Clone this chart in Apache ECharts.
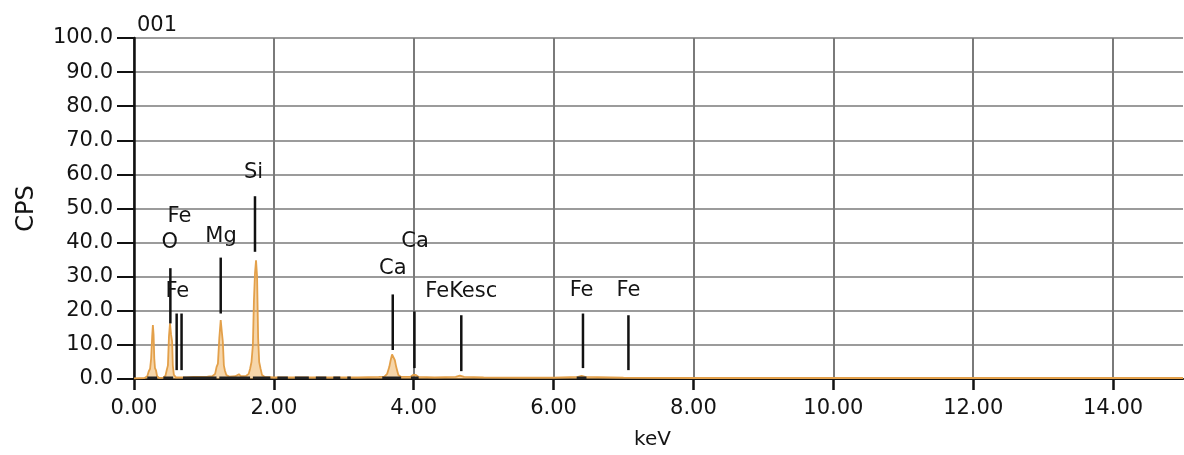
<!DOCTYPE html>
<html>
<head>
<meta charset="utf-8">
<script src="https://cdn.jsdelivr.net/npm/echarts@6/dist/echarts.min.js"></script>
<style>
html,body{margin:0;padding:0;background:#fff;}
#chart{width:1184px;height:455px;}
</style>
</head>
<body>
<div id="chart"></div>
<script>
// ---- data ----
const chartTitle = '001';
const xName = 'keV';
const yName = 'CPS';
const yTicks = [0,10,20,30,40,50,60,70,80,90,100];
const xTicks = [0,2,4,6,8,10,12,14];

// spectrum: [energy keV, counts per second]
const spectrum = [
  [0.00,0.2],[0.15,0.3],[0.19,0.8],[0.21,2.2],[0.23,3.0],[0.245,6],[0.26,12.5],[0.27,15.8],[0.28,13],[0.29,6],[0.30,3.2],[0.315,2.5],[0.33,0.8],[0.36,0.3],
  [0.42,0.4],[0.45,1.0],[0.47,2.8],[0.485,4],[0.50,12.5],[0.515,16.3],[0.53,13],[0.545,11],[0.555,4],[0.57,1.2],[0.60,0.5],
  [0.65,0.5],[0.75,0.5],[0.85,0.6],[0.95,0.6],[1.05,0.7],[1.12,0.8],
  [1.16,1.5],[1.18,3.5],[1.20,4.5],[1.22,12],[1.24,17.3],[1.255,14],[1.27,11],[1.285,4],[1.30,2.5],[1.32,1.2],[1.36,0.7],[1.45,0.8],[1.50,1.4],[1.53,0.8],[1.60,0.9],
  [1.64,1.5],[1.66,3],[1.68,5],[1.70,10],[1.715,23],[1.73,31],[1.745,34.8],[1.76,30],[1.775,12],[1.79,5],[1.81,3],[1.83,1.2],[1.87,0.6],
  [2.0,0.5],[2.3,0.5],[2.6,0.5],[2.9,0.5],[3.2,0.5],[3.5,0.6],
  [3.58,0.7],[3.62,1.5],[3.65,3.5],[3.67,5.5],[3.69,7.2],[3.71,7.0],[3.73,5.5],[3.75,3.5],[3.78,1.2],[3.82,0.6],
  [3.95,0.6],[3.99,1.2],[4.01,1.5],[4.03,1.2],[4.07,0.6],[4.3,0.5],[4.6,0.6],[4.66,1.0],[4.72,0.6],
  [5.0,0.5],[5.5,0.4],[6.0,0.4],[6.35,0.6],[6.40,0.9],[6.45,0.6],[7.0,0.4],[8.0,0.3],[10.0,0.3],[12.0,0.3],[15.0,0.3]
];

// dark region-of-interest bars along the baseline: [start keV, end keV]
const roiBars = [
  [0.19,0.33],[0.42,0.56],[0.70,1.18],[1.22,1.66],[1.70,1.95],
  [2.05,2.20],[2.30,2.50],[2.60,2.75],[2.85,2.95],[3.05,3.10],
  [3.55,3.82],[3.96,4.07],[6.33,6.47]
];

// element marker lines: energy, top CPS, bottom CPS
const markerEnergy = [0.52, 0.61, 0.68, 1.24, 1.73, 3.70, 4.01, 4.68, 6.42, 7.07];
const markerTop    = [32.5, 19.2, 19.2, 35.6, 53.6, 24.8, 19.8, 18.7, 19.2, 18.7];
const markerBottom = [16.3, 2.6,  2.6,  19.2, 37.3, 8.5,  3.2,  2.3,  3.2,  2.6];

// element labels
const labelText   = ['Si', 'Fe', 'O', 'Mg', 'Fe', 'Ca', 'Ca', 'FeKesc', 'Fe', 'Fe'];
const labelEnergy = [1.71, 0.65, 0.51, 1.245, 0.62, 3.70, 4.02, 4.68, 6.40, 7.07];
const labelCps    = [60.5, 47.5, 39.9, 41.8, 25.7, 32.4, 40.2, 25.7, 26.0, 26.0];

// ---- build ----
const roiData = [];
roiBars.forEach(b => { roiData.push([b[0], 0.4], [b[1], 0.4], [b[1], null]); });
const markerData = markerEnergy.map((e, i) => [e, markerTop[i], markerBottom[i]]);
const labelData = labelText.map((t, i) => [labelEnergy[i], labelCps[i], t]);

const FONT = '"DejaVu Sans", sans-serif';
const TXT = '#141414';

const chart = echarts.init(document.getElementById('chart'), null, {renderer: 'canvas'});
chart.setOption({
  animation: false,
  backgroundColor: '#fff',
  title: {
    text: chartTitle, left: 132, top: 10,
    textStyle: {fontFamily: FONT, fontSize: 21, fontWeight: 'normal', color: TXT}
  },
  grid: {left: 134, top: 38, right: 1, height: 343},
  xAxis: [{
    type: 'value', min: 0, max: 15, interval: 2,
    name: xName, nameLocation: 'middle', nameGap: 51,
    nameTextStyle: {fontFamily: FONT, fontSize: 20, color: TXT, padding: [0, 12, 0, 0]},
    axisLine: {show: true, onZero: false, lineStyle: {color: '#dcc050', width: 2}},
    axisTick: {show: true, length: 11, customValues: xTicks, lineStyle: {color: '#111', width: 2.5}},
    axisLabel: {fontFamily: FONT, fontSize: 21, color: TXT, margin: 19, customValues: xTicks,
      formatter: v => xTicks.indexOf(v) >= 0 ? v.toFixed(2) : ''},
    splitLine: {show: true, lineStyle: {color: '#7a7a7a', width: 2}}
  }, {
    type: 'value', min: 0, max: 15, position: 'top',
    axisLine: {show: true, lineStyle: {color: '#111', width: 2}},
    axisTick: {show: false}, axisLabel: {show: false}, splitLine: {show: false}
  }],
  yAxis: {
    type: 'value', min: 0, max: 100, interval: 10,
    name: yName, nameLocation: 'middle', nameGap: 95, nameRotate: 90,
    nameTextStyle: {fontFamily: FONT, fontSize: 24, color: TXT},
    axisLine: {show: true, lineStyle: {color: '#111', width: 2.5}},
    axisTick: {show: true, length: 17, lineStyle: {color: '#111', width: 2}},
    axisLabel: {fontFamily: FONT, fontSize: 21, color: TXT, margin: 21,
      formatter: v => yTicks.indexOf(v) >= 0 ? v.toFixed(1) : ''},
    splitLine: {show: true, lineStyle: {color: '#7a7a7a', width: 1.5}}
  },
  series: [
    {
      type: 'line', data: spectrum, showSymbol: false,
      lineStyle: {color: '#e3a04a', width: 1.8},
      areaStyle: {color: '#eeb464', opacity: 0.55}, z: 3
    },
    {
      type: 'line', data: roiData, showSymbol: false, connectNulls: false,
      lineStyle: {color: '#222', width: 2.5}, z: 4
    },
    {
      type: 'custom', data: markerData, encode: {x: 0, y: 1}, z: 5,
      renderItem: (params, api) => {
        const p1 = api.coord([api.value(0), api.value(1)]);
        const p2 = api.coord([api.value(0), api.value(2)]);
        return {type: 'line', shape: {x1: p1[0], y1: p1[1], x2: p2[0], y2: p2[1]},
          style: {stroke: '#111', lineWidth: 2.5}};
      }
    },
    {
      type: 'custom', data: labelData, encode: {x: 0, y: 1}, z: 6,
      renderItem: (params, api) => {
        const p = api.coord([api.value(0), api.value(1)]);
        return {type: 'text', x: p[0], y: p[1],
          style: {text: labelData[params.dataIndex][2], fill: TXT,
            font: '21px ' + FONT, align: 'center', verticalAlign: 'middle'}};
      }
    }
  ]
});
</script>
</body>
</html>
